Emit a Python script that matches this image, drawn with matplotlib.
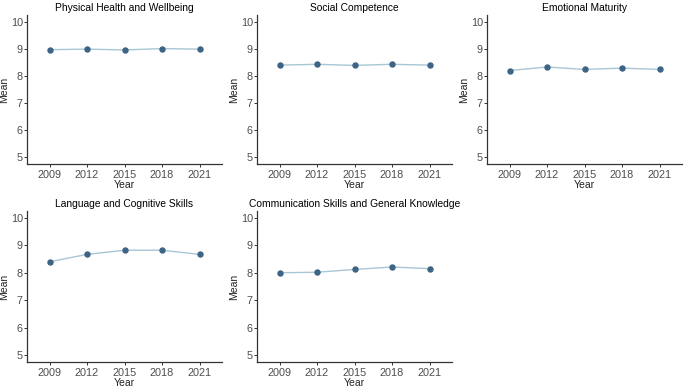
import matplotlib
matplotlib.use("Agg")
import matplotlib.pyplot as plt

plt.rcParams['font.family'] = ['Liberation Sans', 'DejaVu Sans']

years = ["2009", "2012", "2015", "2018", "2021"]
titles = ["Physical Health and Wellbeing", "Social Competence", "Emotional Maturity",
          "Language and Cognitive Skills", "Communication Skills and General Knowledge"]
physical = [8.97, 8.99, 8.96, 9.01, 8.99]
social = [8.40, 8.43, 8.39, 8.43, 8.40]
emotional = [8.20, 8.33, 8.24, 8.29, 8.24]
language = [8.40, 8.67, 8.82, 8.82, 8.67]
communication = [8.00, 8.02, 8.12, 8.21, 8.15]
series = [physical, social, emotional, language, communication]

W, H = 685, 388
fig = plt.figure(figsize=(W / 100, H / 100), dpi=100)

# panel boxes in pixels: left, top, right, bottom
col_x = [(27, 222), (257, 452), (487, 682)]
row_y = [(15, 164), (211, 362)]

line_col = "#a9c6d6"
pt_col = "#3d6484"
axis_col = "#333333"
tick_col = "#4d4d4d"

for i, (title, vals) in enumerate(zip(titles, series)):
    r, c = divmod(i, 3)
    x0, x1 = col_x[c]
    y0, y1 = row_y[r]
    ax = fig.add_axes([x0 / W, 1 - y1 / H, (x1 - x0) / W, (y1 - y0) / H])
    xs = range(1, len(years) + 1)
    ax.plot(xs, vals, color=line_col, lw=1.0, zorder=2)
    ax.scatter(xs, vals, color=pt_col, s=13, zorder=3)
    ax.set_xlim(0.4, 5.6)
    ax.set_ylim(4.75, 10.25)
    ax.set_xticks(list(xs))
    ax.set_xticklabels(years)
    ax.set_yticks([5, 6, 7, 8, 9, 10])
    ax.set_title(title, fontsize=7.4, color="black", pad=3)
    ax.set_xlabel("Year", fontsize=7.5, color="#222222", labelpad=0)
    ax.set_ylabel("Mean", fontsize=7.5, color="#222222", labelpad=1)
    for s in ["top", "right"]:
        ax.spines[s].set_visible(False)
    for s in ["left", "bottom"]:
        ax.spines[s].set_color(axis_col)
        ax.spines[s].set_linewidth(0.9)
    ax.tick_params(colors=axis_col, labelcolor=tick_col, labelsize=7.8,
                   length=2, width=0.7, pad=1)
    ax.tick_params(axis="x", pad=2.5)

fig.savefig("out.png", dpi=100)
